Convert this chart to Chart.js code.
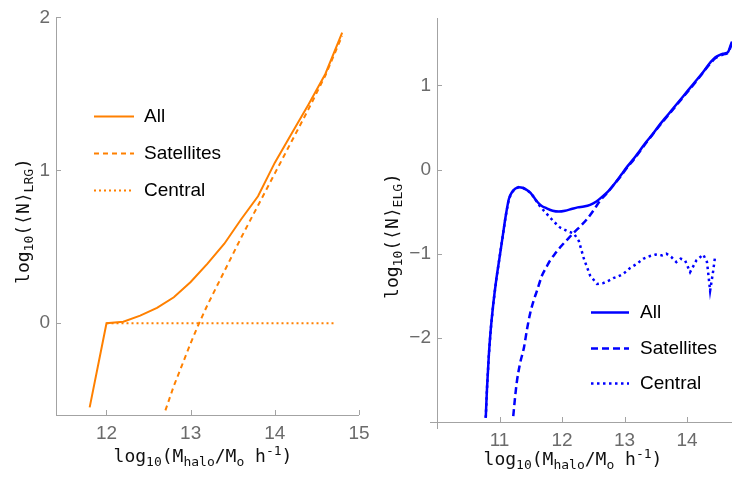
<!DOCTYPE html>
<html>
<head>
<meta charset="utf-8">
<script src="https://cdn.jsdelivr.net/npm/chart.js@4.4.1/dist/chart.umd.min.js"></script>
<style>
  body { margin: 0; background: #fff; }
  #wrap { position: relative; width: 732px; height: 481px; overflow: hidden; }
  canvas { position: absolute; top: 0; }
  #lrg { left: 0; }
  #elg { left: 366px; }
</style>
</head>
<body>
<div id="wrap">
  <canvas id="lrg" width="380" height="481"></canvas>
  <canvas id="elg" width="366" height="481"></canvas>
</div>
<script>
// LRG occupation (left panel)
const lrgAllMass = [11.8, 12.0, 12.2, 12.4, 12.6, 12.8, 13.0, 13.2, 13.4, 13.6, 13.8, 14.0, 14.2, 14.4, 14.6, 14.8];
const lrgAllN    = [-0.55, 0.0, 0.01, 0.05, 0.1, 0.17, 0.27, 0.39, 0.52, 0.68, 0.83, 1.05, 1.24, 1.43, 1.63, 1.9];
const lrgSatMass = [12.7, 12.8, 12.9, 13.0, 13.1, 13.2, 13.4, 13.6, 13.8, 14.0, 14.2, 14.4, 14.6, 14.8];
const lrgSatN    = [-0.57, -0.41, -0.27, -0.13, 0.0, 0.12, 0.34, 0.56, 0.77, 0.98, 1.19, 1.4, 1.62, 1.88];
const lrgCenMass = [12.0, 14.7];
const lrgCenN    = [0, 0];
const lrgXTicks  = [12, 13, 14, 15];
const lrgYTicks  = [0, 1, 2];

// ELG occupation (right panel)
const elgAllMass = [10.78, 10.8, 10.83, 10.86, 10.9, 10.95, 11.0, 11.05, 11.1, 11.15, 11.2, 11.25, 11.31, 11.38, 11.45,
  11.5, 11.55, 11.6, 11.67, 11.75, 11.85, 11.95, 12.05, 12.15, 12.25, 12.35, 12.45, 12.55, 12.65, 12.75, 12.85, 12.95,
  13.05, 13.15, 13.25, 13.35, 13.45, 13.55, 13.65, 13.75, 13.85, 13.95, 14.05, 14.15, 14.25, 14.35, 14.45, 14.52,
  14.6, 14.66, 14.7, 14.72];
const elgAllN = [-2.95, -2.6, -2.2, -1.9, -1.6, -1.3, -1.05, -0.8, -0.55, -0.35, -0.27, -0.23, -0.21, -0.22, -0.25,
  -0.28, -0.33, -0.38, -0.43, -0.46, -0.49, -0.5, -0.49, -0.47, -0.45, -0.44, -0.42, -0.38, -0.32, -0.25, -0.16, -0.06,
  0.04, 0.13, 0.23, 0.33, 0.42, 0.52, 0.61, 0.7, 0.79, 0.88, 0.97, 1.06, 1.15, 1.25, 1.33, 1.36,
  1.38, 1.4, 1.48, 1.52];
const elgSatMass = [11.22, 11.25, 11.28, 11.33, 11.39, 11.44, 11.49, 11.55, 11.6, 11.68, 11.75, 11.81, 11.9, 12.0,
  12.1, 12.19, 12.3, 12.4, 12.5, 12.61, 12.72, 12.82, 12.95, 13.05, 13.15, 13.35, 13.55, 13.75, 13.95, 14.15, 14.35,
  14.45, 14.52, 14.6, 14.66, 14.7, 14.72];
const elgSatN = [-2.93, -2.7, -2.51, -2.3, -2.12, -1.9, -1.71, -1.55, -1.44, -1.26, -1.16, -1.08, -0.99, -0.9,
  -0.82, -0.75, -0.67, -0.59, -0.49, -0.37, -0.28, -0.19, -0.07, 0.03, 0.12, 0.32, 0.51, 0.69, 0.87, 1.05, 1.24,
  1.32, 1.35, 1.37, 1.39, 1.46, 1.5];
const elgCenMass = [10.78, 10.8, 10.83, 10.86, 10.9, 10.95, 11.0, 11.05, 11.1, 11.15, 11.2, 11.25, 11.31, 11.38, 11.45,
  11.5, 11.55, 11.65, 11.76, 11.87, 11.97, 12.08, 12.19, 12.27, 12.35, 12.45, 12.56, 12.66, 12.75, 12.82, 12.9, 12.98,
  13.09, 13.2, 13.3, 13.4, 13.5, 13.6, 13.67, 13.75, 13.83, 13.9, 13.97, 14.05, 14.15, 14.26, 14.32, 14.37, 14.42, 14.45];
const elgCenN = [-2.95, -2.6, -2.2, -1.9, -1.6, -1.3, -1.05, -0.8, -0.55, -0.35, -0.27, -0.23, -0.21, -0.22, -0.25,
  -0.28, -0.33, -0.44, -0.53, -0.62, -0.69, -0.73, -0.76, -0.85, -1.06, -1.26, -1.36, -1.35, -1.32, -1.29, -1.27, -1.24,
  -1.17, -1.12, -1.06, -1.03, -1.01, -1.02, -1.0, -1.04, -1.1, -1.06, -1.08, -1.22, -1.08, -1.01, -1.1, -1.44, -1.2, -1.03];
const elgXTicks = [11, 12, 13, 14];
const elgYTicks = [-2, -1, 0, 1];

const seriesNames = ['All', 'Satellites', 'Central'];

const pts = (xs, ys) => xs.map((x, i) => ({ x: x, y: ys[i] }));
const minus = v => (v < 0 ? '\u2212' + Math.abs(v) : String(v));

// axis lines with inward tick marks, Mathematica style
const axesPlugin = {
  id: 'axes',
  beforeDatasetsDraw(chart, args, opts) {
    const { ctx, chartArea: a, scales } = chart;
    const ext = opts.overhang || 0;
    ctx.save();
    ctx.strokeStyle = opts.color;
    ctx.lineWidth = 1;
    ctx.beginPath();
    ctx.moveTo(a.left - ext, a.bottom + 0.5);
    ctx.lineTo(a.right, a.bottom + 0.5);
    ctx.moveTo(a.left + 0.5, a.top);
    ctx.lineTo(a.left + 0.5, a.bottom + ext);
    scales.x.ticks.forEach(t => {
      const px = Math.round(scales.x.getPixelForValue(t.value)) + 0.5;
      ctx.moveTo(px, a.bottom);
      ctx.lineTo(px, a.bottom - opts.tick);
    });
    scales.y.ticks.forEach(t => {
      const py = Math.round(scales.y.getPixelForValue(t.value)) + 0.5;
      ctx.moveTo(a.left, py);
      ctx.lineTo(a.left + opts.tick, py);
    });
    ctx.stroke();
    ctx.restore();
  }
};

// titles with sub/superscripts
function drawRich(ctx, parts) {
  const main = '18px "DejaVu Sans Mono", monospace';
  const small = '13px "DejaVu Sans Mono", monospace';
  let w = 0;
  parts.forEach(([s, k]) => { ctx.font = k ? small : main; w += ctx.measureText(s).width; });
  let x = -w / 2;
  parts.forEach(([s, k]) => {
    ctx.font = k ? small : main;
    const dy = k === 'sub' ? 4 : k === 'sup' ? -7 : 0;
    ctx.fillText(s, x, dy);
    x += ctx.measureText(s).width;
  });
}

const titlePlugin = {
  id: 'richTitles',
  afterDraw(chart, args, opts) {
    const ctx = chart.ctx;
    ctx.save();
    ctx.fillStyle = '#111';
    ctx.textBaseline = 'alphabetic';
    ctx.translate(opts.x.cx, opts.x.base);
    drawRich(ctx, opts.x.parts);
    ctx.restore();
    ctx.save();
    ctx.fillStyle = '#111';
    ctx.textBaseline = 'alphabetic';
    ctx.translate(opts.y.base, opts.y.cy);
    ctx.rotate(-Math.PI / 2);
    drawRich(ctx, opts.y.parts);
    ctx.restore();
  }
};

// legend: line sample + label, one row per dataset
const keyPlugin = {
  id: 'lineKey',
  afterDraw(chart, args, opts) {
    const ctx = chart.ctx;
    ctx.save();
    chart.data.datasets.forEach((ds, i) => {
      const y = Math.round(opts.y + i * opts.gap) + 0.5;
      ctx.strokeStyle = ds.borderColor;
      ctx.lineWidth = ds.borderWidth;
      ctx.setLineDash(ds.borderDash || []);
      ctx.beginPath();
      ctx.moveTo(opts.x, y);
      ctx.lineTo(opts.x + opts.len, y);
      ctx.stroke();
      ctx.setLineDash([]);
      ctx.fillStyle = '#000';
      ctx.font = '19px "Liberation Sans", Arial, sans-serif';
      ctx.textBaseline = 'middle';
      ctx.fillText(ds.label, opts.x + opts.len + opts.pad, y);
    });
    ctx.restore();
  }
};

const xTitle = [['log', ''], ['10', 'sub'], ['(', ''], ['M', ''], ['halo', 'sub'], ['/', ''], ['M', ''], ['o', 'sub'],
  [' h', ''], ['-1', 'sup'], [')', '']];

function scaleOpts(min, max, tickList, size, isX) {
  return {
    type: 'linear',
    min: min,
    max: max,
    afterBuildTicks: s => { s.ticks = tickList.map(v => ({ value: v })); },
    afterFit: s => { if (isX) s.height = size; else s.width = size; },
    grid: { display: false, drawTicks: false },
    border: { display: false },
    ticks: {
      padding: isX ? 7 : 6,
      color: '#6b6b6b',
      font: { family: '"Liberation Sans", Arial, sans-serif', size: 19 },
      callback: v => minus(v)
    }
  };
}

function makeChart(id, datasets, cfg) {
  return new Chart(document.getElementById(id), {
    type: 'line',
    data: { datasets: datasets },
    options: {
      responsive: false,
      animation: false,
      layout: { autoPadding: false, padding: cfg.padding },
      elements: { point: { radius: 0 } },
      scales: {
        x: scaleOpts(cfg.xMin, cfg.xMax, cfg.xTicks, cfg.xAxisH, true),
        y: scaleOpts(cfg.yMin, cfg.yMax, cfg.yTicks, cfg.yAxisW, false)
      },
      plugins: {
        legend: { display: false },
        tooltip: { enabled: false },
        axes: { color: '#a3a3a3', tick: 5, overhang: cfg.overhang },
        richTitles: cfg.titles,
        lineKey: cfg.key
      }
    },
    plugins: [axesPlugin, titlePlugin, keyPlugin]
  });
}

const orange = '#ff8000';
const blue = '#0000ff';

makeChart('lrg', [
  { label: seriesNames[0], data: pts(lrgAllMass, lrgAllN), borderColor: orange, borderWidth: 2, tension: 0 },
  { label: seriesNames[1], data: pts(lrgSatMass, lrgSatN), borderColor: orange, borderWidth: 2, borderDash: [5, 4], tension: 0 },
  { label: seriesNames[2], data: pts(lrgCenMass, lrgCenN), borderColor: orange, borderWidth: 2, borderDash: [2, 3], tension: 0 }
], {
  xMin: 11.4, xMax: 15, yMin: -0.6, yMax: 2,
  xTicks: lrgXTicks, yTicks: lrgYTicks,
  padding: { left: 0, right: 21, top: 12, bottom: 0 },
  xAxisH: 66, yAxisW: 56, overhang: 0,
  titles: {
    x: { cx: 203, base: 462, parts: xTitle },
    y: { base: 29, cy: 221, parts: [['log', ''], ['10', 'sub'], ['(\u27E8N\u27E9', ''], ['LRG', 'sub'], [')', '']] }
  },
  key: { x: 94, y: 116, gap: 37, len: 40, pad: 10 }
});

makeChart('elg', [
  { label: seriesNames[0], data: pts(elgAllMass, elgAllN), borderColor: blue, borderWidth: 2.5, cubicInterpolationMode: 'monotone' },
  { label: seriesNames[1], data: pts(elgSatMass, elgSatN), borderColor: blue, borderWidth: 2.5, borderDash: [7, 4], cubicInterpolationMode: 'monotone' },
  { label: seriesNames[2], data: pts(elgCenMass, elgCenN), borderColor: blue, borderWidth: 2.5, borderDash: [2.5, 3.5], tension: 0 }
], {
  xMin: 10, xMax: 14.72, yMin: -3, yMax: 1.8,
  xTicks: elgXTicks, yTicks: elgYTicks,
  padding: { left: 0, right: 0, top: 18, bottom: 0 },
  xAxisH: 59, yAxisW: 71, overhang: 7,
  titles: {
    x: { cx: 207, base: 465, parts: xTitle },
    y: { base: 32, cy: 236, parts: [['log', ''], ['10', 'sub'], ['(\u27E8N\u27E9', ''], ['ELG', 'sub'], [')', '']] }
  },
  key: { x: 225, y: 312, gap: 35.5, len: 38, pad: 11 }
});
</script>
</body>
</html>
